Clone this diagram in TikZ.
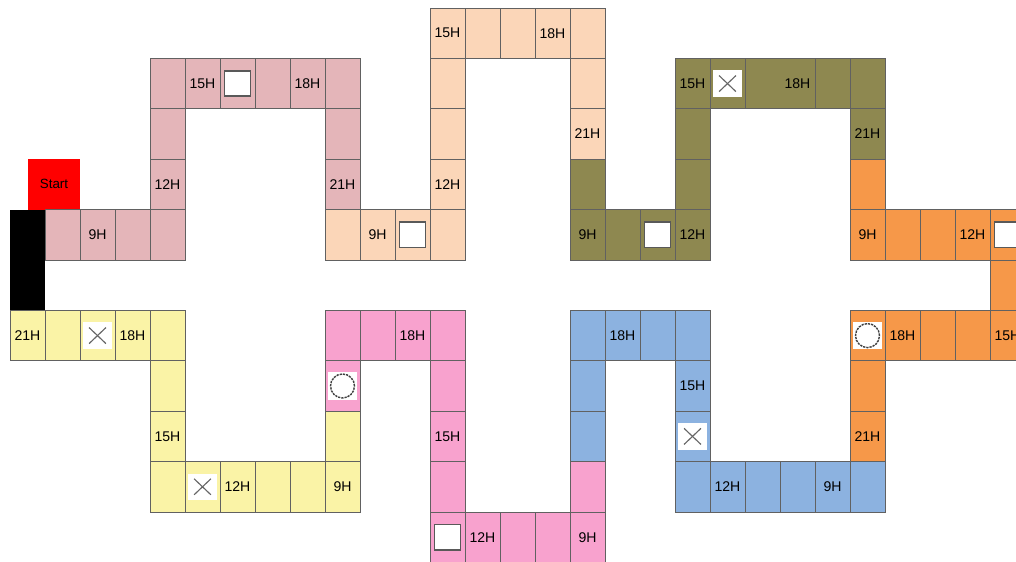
\documentclass[tikz,border=0pt]{standalone}
\usepackage{fontspec}
\setsansfont{Liberation Sans}
\usetikzlibrary{positioning}

\definecolor{rosecol}{HTML}{E4B5B9}
\definecolor{peachcol}{HTML}{FBD6B8}
\definecolor{olivecol}{HTML}{8E8850}
\definecolor{orangecol}{HTML}{F69849}
\definecolor{bluecol}{HTML}{8CB2E0}
\definecolor{pinkcol}{HTML}{F8A2CE}
\definecolor{yellowcol}{HTML}{FAF3A6}

\begin{document}
\begin{tikzpicture}[
    x=0.875cm, y=-1.26cm,
    every node/.style={font=\sffamily\fontsize{10}{12}\selectfont},
    cell/.style={rectangle, draw=black!62, line width=0.55pt, minimum width=0.875cm, minimum height=1.26cm, inner sep=0pt},
    sqmark/.style={rectangle, draw=black!65, line width=1.1pt, fill=white, minimum width=0.66cm, minimum height=0.63cm, inner sep=0pt},
    xmark/.style={rectangle, fill=white, minimum width=0.72cm, minimum height=0.66cm, inner sep=0pt,
        path picture={\draw[black!60, line width=0.8pt]
            ([shift={(-0.21cm,-0.2cm)}]path picture bounding box.center) -- ([shift={(0.21cm,0.2cm)}]path picture bounding box.center)
            ([shift={(-0.21cm,0.2cm)}]path picture bounding box.center) -- ([shift={(0.21cm,-0.2cm)}]path picture bounding box.center);}},
    circmark/.style={rectangle, fill=white, minimum width=0.72cm, minimum height=0.68cm, inner sep=0pt,
        path picture={\draw[black!75, line width=1pt, dash pattern=on 1.6pt off 0.7pt]
            (path picture bounding box.center) circle[radius=0.3cm];}},
    startbox/.style={rectangle, fill=red, minimum width=1.3cm, minimum height=1.26cm, inner sep=0pt, font=\sffamily\fontsize{9.5}{11}\selectfont},
]
\useasboundingbox (-0.2857,-0.1587) rectangle (28.743,10.992);
\clip (-0.2857,-0.1587) rectangle (28.743,10.992);

% Start and black bar
\node[startbox] (start) at (1.257,3.5) {Start};
\node[fill=black, minimum width=0.875cm, minimum height=2.52cm, inner sep=0pt] (bar) at (0.5,5) {};

% Rose stretch
\foreach \c/\r/\t in {1/4/{}, 2/4/9H, 3/4/{}, 4/4/{}, 4/3/12H, 4/2/{}, 4/1/{}, 5/1/15H, 6/1/{}, 7/1/{}, 8/1/18H, 9/1/{}, 9/2/{}, 9/3/21H} {
    \node[cell, fill=rosecol] (rose-\c-\r) at (\c+0.5,\r+0.5) {\t};
}

% Peach stretch
\foreach \c/\r/\t in {9/4/{}, 10/4/9H, 11/4/{}, 12/4/{}, 12/3/12H, 12/2/{}, 12/1/{}, 12/0/15H, 13/0/{}, 14/0/{}, 15/0/18H, 16/0/{}, 16/1/{}, 16/2/21H} {
    \node[cell, fill=peachcol] (peach-\c-\r) at (\c+0.5,\r+0.5) {\t};
}

% Olive stretch
\foreach \c/\r/\t in {16/3/{}, 16/4/9H, 17/4/{}, 18/4/{}, 19/4/12H, 19/3/{}, 19/2/{}, 19/1/15H, 20/1/{}, 23/1/{}, 24/1/{}, 24/2/21H} {
    \node[cell, fill=olivecol] (olive-\c-\r) at (\c+0.5,\r+0.5) {\t};
}
\node[cell, fill=olivecol, minimum width=1.75cm] (olive-21-1) at (22,1.5) {};
\node (olive-lbl) at (22.5,1.5) {18H};

% Orange stretch
\foreach \c/\r/\t in {24/3/{}, 24/4/9H, 25/4/{}, 26/4/{}, 27/4/12H, 28/4/{}, 28/5/{}, 28/6/15H, 27/6/{}, 26/6/{}, 25/6/18H, 24/6/{}, 24/7/{}, 24/8/21H} {
    \node[cell, fill=orangecol] (orange-\c-\r) at (\c+0.5,\r+0.5) {\t};
}

% Blue stretch
\foreach \c/\r/\t in {24/9/{}, 23/9/9H, 22/9/{}, 21/9/{}, 20/9/12H, 19/9/{}, 19/8/{}, 19/7/15H, 19/6/{}, 18/6/{}, 17/6/18H, 16/6/{}, 16/7/{}, 16/8/{}} {
    \node[cell, fill=bluecol] (blue-\c-\r) at (\c+0.5,\r+0.5) {\t};
}

% Pink stretch
\foreach \c/\r/\t in {16/9/{}, 16/10/9H, 15/10/{}, 14/10/{}, 13/10/12H, 12/10/{}, 12/9/{}, 12/8/15H, 12/7/{}, 12/6/{}, 11/6/18H, 10/6/{}, 9/6/{}, 9/7/{}} {
    \node[cell, fill=pinkcol] (pink-\c-\r) at (\c+0.5,\r+0.5) {\t};
}

% Yellow stretch
\foreach \c/\r/\t in {9/8/{}, 9/9/9H, 8/9/{}, 7/9/{}, 6/9/12H, 5/9/{}, 4/9/{}, 4/8/15H, 4/7/{}, 4/6/{}, 3/6/18H, 2/6/{}, 1/6/{}, 0/6/21H} {
    \node[cell, fill=yellowcol] (yellow-\c-\r) at (\c+0.5,\r+0.5) {\t};
}

% Markers
\node[sqmark] (sq-rose) at (rose-6-1) {};
\node[sqmark] (sq-peach) at (peach-11-4) {};
\node[sqmark] (sq-olive) at (olive-18-4) {};
\node[sqmark] (sq-orange) at (orange-28-4) {};
\node[sqmark] (sq-pink) at (pink-12-10) {};
\node[xmark] (x-olive) at (olive-20-1) {};
\node[xmark] (x-blue) at (blue-19-8) {};
\node[xmark] (x-yellow1) at (yellow-2-6) {};
\node[xmark] (x-yellow2) at (yellow-5-9) {};
\node[circmark] (o-orange) at (orange-24-6) {};
\node[circmark] (o-pink) at (pink-9-7) {};

\end{tikzpicture}
\end{document}
